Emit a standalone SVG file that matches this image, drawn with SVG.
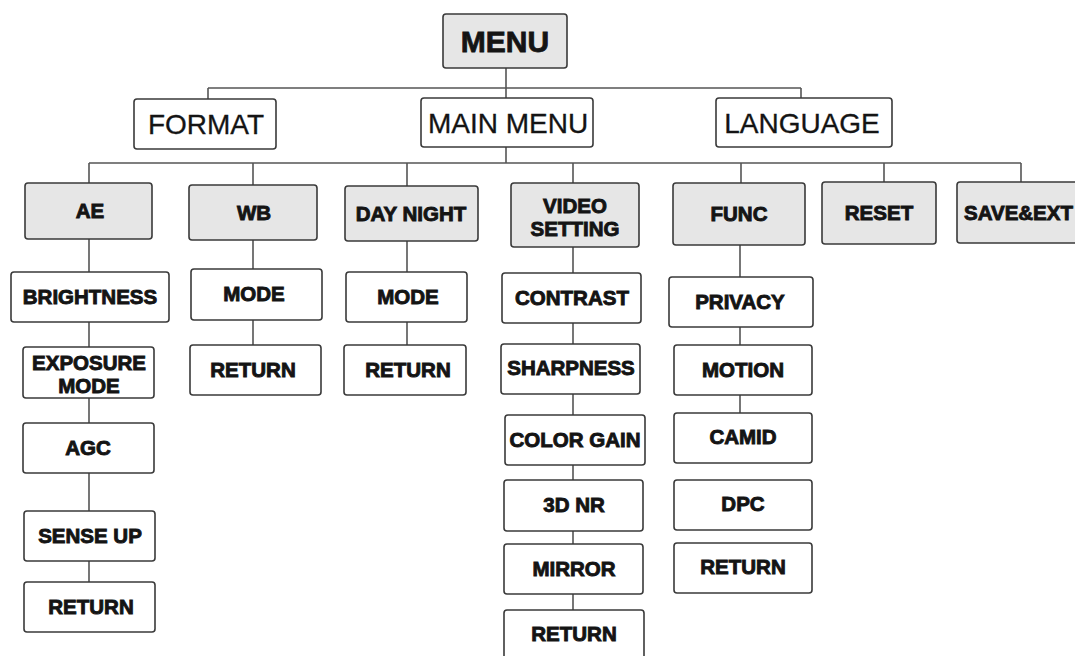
<svg xmlns="http://www.w3.org/2000/svg" width="1075" height="656" viewBox="0 0 1075 656">
<style>
.b rect{stroke:#3a3a3a;stroke-width:1.6;rx:3}
.g rect{fill:#e6e6e6}
.w rect{fill:#ffffff}
text{font-family:"Liberation Sans",Arial,sans-serif;fill:#141414;text-anchor:middle}
.t1 text{font-size:28px;stroke:#141414;stroke-width:0.3}
.t0 text{font-size:30px;font-weight:bold;stroke:#141414;stroke-width:0.8}
.t2 text{font-size:20.5px;font-weight:bold;stroke:#141414;stroke-width:0.9}
#conn path{fill:none;stroke:#555;stroke-width:1.6}
</style>
<rect width="1075" height="656" fill="#fff"/>
<g id="conn">
<path d="M506 68V98M208 88H801M208 88V99M801 88V98"/>
<path d="M506 147V163M89 163H1021M89 163V183M253 163V185M407 163V186M573 163V183M741 163V183M884 163V182M1021 163V182"/>
<path d="M89 239V272M89 322V347M89 398V423M89 473V511M89 561V582"/>
<path d="M253 240V269M253 320V345"/>
<path d="M407 241V272M407 322V345"/>
<path d="M573 247V273M573 323V344M573 394V415M573 465V480M573 531V544M573 594V610"/>
<path d="M740 245V277M740 327V345M740 395V413"/>
</g>
<g id="menu" class="b g t0"><rect x="443" y="14" width="124" height="54"/><text x="505" y="52">MENU</text></g>
<g id="format" class="b w t1"><rect x="134" y="99" width="142" height="50"/><text x="206" y="134">FORMAT</text></g>
<g id="mainmenu" class="b w t1"><rect x="421" y="98" width="172" height="49"/><text x="508" y="133">MAIN MENU</text></g>
<g id="language" class="b w t1"><rect x="716" y="98" width="176" height="49"/><text x="802" y="133">LANGUAGE</text></g>
<g class="b g t2">
<g id="ae"><rect x="25" y="183" width="127" height="56"/><text x="90" y="218">AE</text></g>
<g id="wb"><rect x="189" y="185" width="128" height="55"/><text x="254" y="220">WB</text></g>
<g id="daynight"><rect x="345" y="186" width="133" height="55"/><text x="411" y="221">DAY NIGHT</text></g>
<g id="videosetting"><rect x="511" y="183" width="128" height="64"/><text x="575" y="213">VIDEO</text><text x="575" y="236">SETTING</text></g>
<g id="func"><rect x="673" y="183" width="132" height="62"/><text x="739" y="221">FUNC</text></g>
<g id="reset"><rect x="822" y="182" width="114" height="62"/><text x="879" y="220">RESET</text></g>
<g id="saveext"><rect x="957" y="182" width="140" height="61"/><text x="964" y="220" style="text-anchor:start">SAVE&amp;EXT</text></g>
</g>
<g class="b w t2">
<g id="brightness"><rect x="11" y="272" width="158" height="50"/><text x="90" y="304">BRIGHTNESS</text></g>
<g id="exposuremode"><rect x="23" y="347" width="131" height="51"/><text x="89" y="370">EXPOSURE</text><text x="89" y="393">MODE</text></g>
<g id="agc"><rect x="23" y="423" width="131" height="50"/><text x="88" y="455">AGC</text></g>
<g id="senseup"><rect x="24" y="511" width="131" height="50"/><text x="90" y="543">SENSE UP</text></g>
<g id="ae_return"><rect x="24" y="582" width="131" height="50"/><text x="91" y="614">RETURN</text></g>
<g id="wb_mode"><rect x="191" y="269" width="131" height="51"/><text x="254" y="301">MODE</text></g>
<g id="wb_return"><rect x="190" y="345" width="131" height="50"/><text x="253" y="377">RETURN</text></g>
<g id="dn_mode"><rect x="346" y="272" width="121" height="50"/><text x="408" y="304">MODE</text></g>
<g id="dn_return"><rect x="344" y="345" width="122" height="50"/><text x="408" y="377">RETURN</text></g>
<g id="contrast"><rect x="502" y="273" width="139" height="50"/><text x="572" y="305">CONTRAST</text></g>
<g id="sharpness"><rect x="501" y="344" width="139" height="50"/><text x="571" y="375">SHARPNESS</text></g>
<g id="colorgain"><rect x="505" y="415" width="140" height="50"/><text x="575" y="447">COLOR GAIN</text></g>
<g id="nr3d"><rect x="504" y="480" width="139" height="51"/><text x="574" y="512">3D NR</text></g>
<g id="mirror"><rect x="504" y="544" width="139" height="50"/><text x="574" y="576">MIRROR</text></g>
<g id="v_return"><rect x="504" y="610" width="140" height="52"/><text x="574" y="641">RETURN</text></g>
<g id="privacy"><rect x="669" y="277" width="144" height="50"/><text x="740" y="309">PRIVACY</text></g>
<g id="motion"><rect x="674" y="345" width="138" height="50"/><text x="743" y="377">MOTION</text></g>
<g id="camid"><rect x="674" y="413" width="138" height="50"/><text x="743" y="444">CAMID</text></g>
<g id="dpc"><rect x="674" y="480" width="138" height="50"/><text x="743" y="511">DPC</text></g>
<g id="f_return"><rect x="674" y="543" width="138" height="50"/><text x="743" y="574">RETURN</text></g>
</g>
</svg>
